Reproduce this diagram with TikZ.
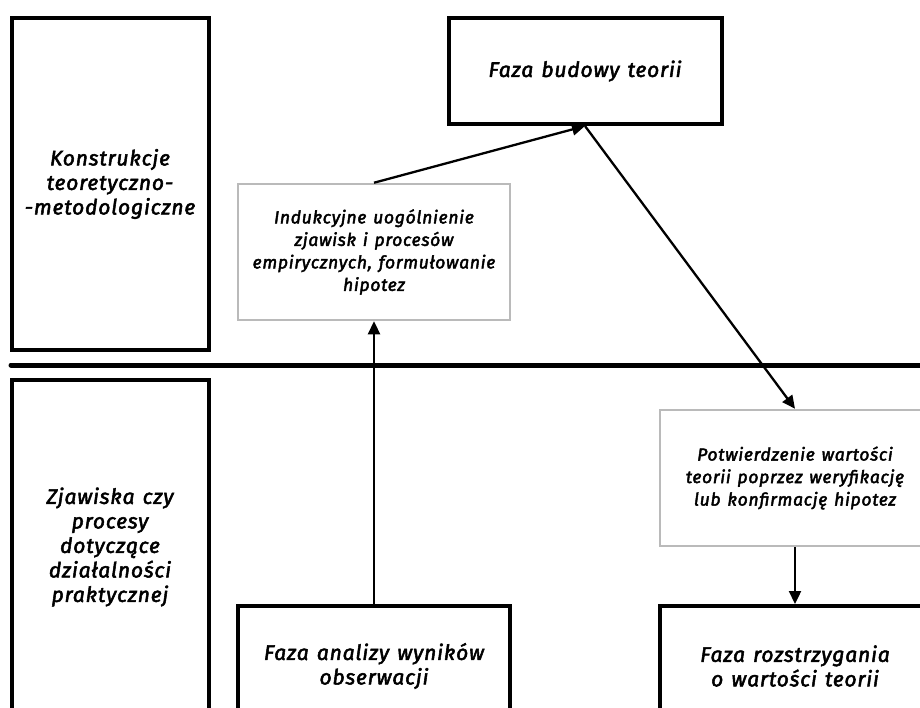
\documentclass[tikz,border=0pt]{standalone}
\usepackage{fontspec}
\newfontfamily\tfi{Fira Sans}[UprightFont={* Italic},FakeBold=2.5,LetterSpace=4,WordSpace=1.3]
\usetikzlibrary{arrows.meta}
\begin{document}
\begin{tikzpicture}[x=1pt,y=-1pt,
  blk/.style={draw=black,line width=4pt,align=center,inner sep=0pt,font=\tfi\fontsize{21}{24.5}\selectfont},
  gry/.style={draw=black!27,line width=2.5pt,align=center,inner sep=0pt,font=\tfi\fontsize{17.5}{22.5}\selectfont},
  conn/.style={line width=2.3pt,-{Triangle[length=13pt,width=12pt]}}]
\useasboundingbox (0,0) rectangle (920,707);
\clip (0,0) rectangle (920,707);
\node[blk,minimum width=197pt,minimum height=332pt] (konst) at (110,184) {Konstrukcje\\teoretyczno-\\-metodologiczne};
\node[blk,minimum width=197pt,minimum height=334pt] (zjaw) at (110,547) {Zjawiska czy\\procesy\\dotyczące\\działalności\\praktycznej};
\node[blk,minimum width=273pt,minimum height=106pt] (budowa) at (585,71) {Faza budowy teorii};
\node[gry,minimum width=272pt,minimum height=136pt] (induk) at (374,252) {Indukcyjne uogólnienie\\zjawisk i procesów\\empirycznych, formułowanie\\hipotez};
\node[blk,minimum width=272pt,minimum height=120pt] (analiza) at (374,666) {Faza analizy wyników\\obserwacji};
\node[gry,minimum width=270pt,minimum height=136pt] (potw) at (795,478) {Potwierdzenie wartości\\teorii poprzez weryfikację\\lub konfirmację hipotez};
\node[blk,minimum width=270pt,minimum height=120pt] (rozstrz) at (795,666) {Faza rozstrzygania\\o wartości teorii};
\coordinate (lineL) at (11,365);
\coordinate (lineR) at (930,365);
\draw[line width=5pt,line cap=round] (lineL) -- (lineR);
\draw[conn] (analiza.north) -- (induk.south);
\draw[conn] (induk.north) -- (budowa.south);
\draw[conn] (budowa.south) -- (potw.north);
\draw[conn] (potw.south) -- (rozstrz.north);
\end{tikzpicture}
\end{document}
